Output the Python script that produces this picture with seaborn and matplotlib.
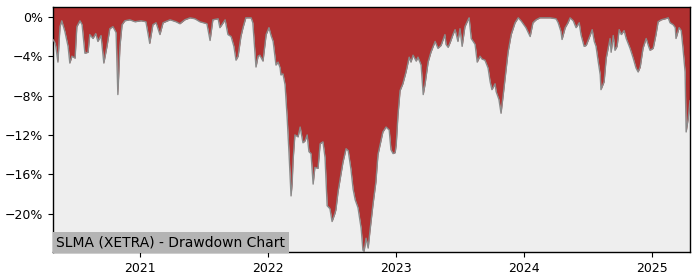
import matplotlib
matplotlib.use("Agg")
import matplotlib.pyplot as plt
import matplotlib.dates as mdates
from matplotlib.ticker import FuncFormatter
import seaborn as sns
import pandas as pd

title = "SLMA (XETRA) - Drawdown Chart"

dates = [
    "2020-04-28", "2020-05-03", "2020-05-06", "2020-05-12", "2020-05-18", "2020-05-23",
    "2020-06-01", "2020-06-10", "2020-06-15", "2020-06-21", "2020-06-30", "2020-07-05",
    "2020-07-14", "2020-07-20", "2020-07-28", "2020-08-06", "2020-08-11", "2020-08-20",
    "2020-08-28", "2020-09-03", "2020-09-12", "2020-09-20", "2020-09-29", "2020-10-07",
    "2020-10-16", "2020-10-25", "2020-10-30", "2020-11-05", "2020-11-11", "2020-11-19",
    "2020-12-03", "2020-12-18", "2021-01-04",
    "2021-01-18", "2021-01-29", "2021-02-07", "2021-02-16", "2021-02-27", "2021-03-08",
    "2021-03-28", "2021-04-14", "2021-04-25", "2021-05-09", "2021-05-24", "2021-06-07",
    "2021-06-21", "2021-07-11", "2021-07-20", "2021-07-28", "2021-08-12", "2021-08-17",
    "2021-09-01", "2021-09-09", "2021-09-18", "2021-09-26", "2021-10-02", "2021-10-08",
    "2021-10-16", "2021-10-22", "2021-10-30", "2021-11-14", "2021-11-19", "2021-11-28",
    "2021-12-04", "2021-12-09", "2021-12-18", "2021-12-27",
    "2022-01-04", "2022-01-10", "2022-01-16", "2022-01-24", "2022-01-30", "2022-02-05",
    "2022-02-07", "2022-02-13", "2022-02-19", "2022-02-25", "2022-03-02", "2022-03-08",
    "2022-03-11", "2022-03-14", "2022-03-19", "2022-03-28", "2022-04-03", "2022-04-11",
    "2022-04-17", "2022-04-23", "2022-04-28", "2022-05-04", "2022-05-10", "2022-05-15",
    "2022-05-24", "2022-05-30", "2022-06-07", "2022-06-13", "2022-06-19", "2022-06-27",
    "2022-07-03", "2022-07-11", "2022-07-14", "2022-07-20", "2022-07-26", "2022-08-03",
    "2022-08-12", "2022-08-18", "2022-08-26", "2022-09-01", "2022-09-07", "2022-09-15",
    "2022-09-24", "2022-09-29", "2022-10-02", "2022-10-08", "2022-10-14", "2022-10-19",
    "2022-10-28", "2022-11-05", "2022-11-11", "2022-11-17", "2022-11-25", "2022-12-04",
    "2022-12-13", "2022-12-18", "2022-12-24", "2022-12-30",
    "2023-01-02", "2023-01-07", "2023-01-13", "2023-01-21", "2023-01-30", "2023-02-08",
    "2023-02-13", "2023-02-19", "2023-02-28", "2023-03-05", "2023-03-14", "2023-03-20",
    "2023-03-25", "2023-04-03", "2023-04-11", "2023-04-23", "2023-05-01", "2023-05-10",
    "2023-05-21", "2023-05-24", "2023-05-30", "2023-06-05", "2023-06-13", "2023-06-19",
    "2023-06-27", "2023-07-03", "2023-07-09", "2023-07-17", "2023-07-26", "2023-07-29",
    "2023-08-04", "2023-08-15", "2023-08-21", "2023-08-29", "2023-09-04", "2023-09-12",
    "2023-09-21", "2023-09-27", "2023-10-02", "2023-10-11", "2023-10-14", "2023-10-22",
    "2023-10-28", "2023-11-03", "2023-11-09", "2023-11-17", "2023-11-26", "2023-12-07",
    "2023-12-16", "2023-12-24",
    "2024-01-07", "2024-01-19", "2024-01-27", "2024-02-05", "2024-02-16", "2024-03-02",
    "2024-03-16", "2024-04-02", "2024-04-08", "2024-04-16", "2024-04-19", "2024-04-28",
    "2024-05-06", "2024-05-12", "2024-05-21", "2024-05-29", "2024-06-07", "2024-06-12",
    "2024-06-21", "2024-06-27", "2024-07-08", "2024-07-14", "2024-07-20", "2024-07-25",
    "2024-07-31", "2024-08-06", "2024-08-08", "2024-08-17", "2024-08-23", "2024-09-03",
    "2024-09-06", "2024-09-12", "2024-09-17", "2024-09-23", "2024-09-29", "2024-10-05",
    "2024-10-13", "2024-10-19", "2024-10-30", "2024-11-08", "2024-11-16", "2024-11-22",
    "2024-11-28", "2024-12-06", "2024-12-15", "2024-12-21", "2024-12-26",
    "2025-01-04", "2025-01-12", "2025-01-18", "2025-01-27", "2025-02-07", "2025-02-16",
    "2025-02-21", "2025-03-02", "2025-03-08", "2025-03-10", "2025-03-19", "2025-03-25",
    "2025-03-30", "2025-04-05", "2025-04-08", "2025-04-14", "2025-04-19",
]

drawdown = [
    -2.3, -2.6, -3.0, -4.6, -1.0, -0.4,
    -1.5, -3.0, -4.7, -4.0, -4.2, -1.0,
    -0.4, -0.8, -3.7, -3.6, -1.8, -2.2,
    -1.7, -2.5, -1.9, -4.7, -3.0, -1.2,
    -1.0, -1.6, -7.9, -3.0, -0.8, -0.4,
    -0.3, -0.5, -0.4,
    -0.5, -2.7, -0.8, -0.6, -1.8, -0.6,
    -0.3, -0.5, -0.7, -0.3, -0.1, -0.2,
    -0.5, -0.7, -2.4, -0.3, -0.2, -1.1,
    -0.3, -1.8, -2.0, -3.0, -4.4, -4.0,
    -2.0, -1.1, -0.1, -0.1, -0.6, -5.1,
    -4.0, -3.9, -4.5, -1.8,
    -1.1, -1.9, -2.5, -4.9, -4.6, -5.2,
    -5.9, -5.8, -6.9, -10.3, -13.7, -18.2,
    -17.0, -14.5, -12.0, -12.2, -11.2, -12.8,
    -12.6, -12.0, -13.7, -13.9, -17.0, -15.3,
    -15.4, -12.9, -12.7, -14.3, -19.2, -19.5,
    -20.8, -20.0, -19.6, -17.8, -16.5, -14.8,
    -13.4, -13.6, -15.5, -17.5, -18.6, -19.4,
    -21.5, -23.7, -23.9, -22.5, -23.5, -21.8,
    -19.0, -16.8, -14.0, -13.0, -11.7, -11.2,
    -11.5, -13.5, -13.9, -13.8,
    -13.0, -10.0, -7.5, -6.8, -5.6, -4.1,
    -4.6, -3.9, -4.5, -4.1, -4.9, -7.9,
    -6.9, -4.6, -3.6, -2.5, -3.2, -2.9,
    -1.8, -2.8, -3.1, -2.6, -1.8, -1.3,
    -2.5, -1.2, -3.0, -1.0, -0.3, -0.1,
    -2.2, -2.8, -4.6, -4.0, -4.3, -4.4,
    -5.2, -6.6, -7.4, -6.8, -7.6, -8.4,
    -9.8, -8.0, -6.1, -3.6, -1.8, -0.6,
    -0.1, -0.4,
    -1.1, -2.0, -0.6, -0.3, -0.1, -0.1,
    -0.1, -0.2, -0.6, -1.5, -2.3, -1.1,
    -0.6, -0.1, -0.4, -1.1, -0.6, -1.8,
    -3.0, -2.9, -1.9, -1.3, -2.5, -3.0,
    -4.5, -5.9, -7.4, -6.6, -4.2, -2.2,
    -3.6, -1.9, -3.4, -3.0, -1.3, -1.8,
    -1.4, -2.2, -3.2, -4.2, -5.2, -5.6,
    -5.1, -3.2, -2.2, -2.9, -3.4,
    -3.2, -1.8, -0.5, -0.3, -0.2, -0.1,
    -0.6, -0.8, -1.1, -2.2, -1.1, -1.4,
    -3.2, -5.6, -11.7, -10.3, -8.5,
]

year_ticks = ["2021-01-01", "2022-01-01", "2023-01-01", "2024-01-01", "2025-01-01"]
year_labels = ["2021", "2022", "2023", "2024", "2025"]
pct_ticks = [0, -4, -8, -12, -16, -20]

df = pd.DataFrame({"date": pd.to_datetime(dates), "dd": drawdown})

sns.set_style("ticks")
plt.rcParams["font.family"] = ["DejaVu Sans"]

fig = plt.figure(figsize=(7, 2.8), dpi=100)
ax = fig.add_axes([53 / 700, 1 - 252 / 280, 637 / 700, 245 / 280])
ax.set_facecolor("#eeeeee")

ytop = 1.0
ybot = min(drawdown)
ax.fill_between(df["date"], df["dd"], ytop, color="#b03030", linewidth=0, zorder=2)
sns.lineplot(data=df, x="date", y="dd", ax=ax, color="#8a8a8a", linewidth=1.0, zorder=3)

ax.set_xlim(df["date"].iloc[0], df["date"].iloc[-1])
ax.set_ylim(ybot, ytop)
ax.set_xticks(pd.to_datetime(year_ticks))
ax.set_xticklabels(year_labels)
ax.set_yticks(pct_ticks)
ax.yaxis.set_major_formatter(FuncFormatter(lambda v, p: f"{v:.0f}%".replace("-", "\u2212")))
ax.tick_params(axis="both", labelsize=9, length=3.5, width=0.8, color="black", labelcolor="black")
ax.set_xlabel("")
ax.set_ylabel("")
for s in ax.spines.values():
    s.set_visible(True)
    s.set_color("black")
    s.set_linewidth(1.0)

ax.text(0.005, 0.012, title, transform=ax.transAxes, fontsize=10, color="black",
        ha="left", va="bottom", zorder=5,
        bbox=dict(facecolor="#b4b4b4", edgecolor="none", pad=2.5))

fig.savefig("out.png", dpi=100)
